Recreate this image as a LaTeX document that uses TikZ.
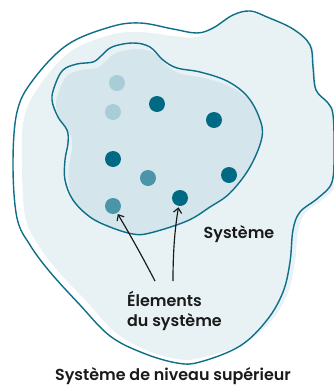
\documentclass[tikz,border=0pt]{standalone}
\usepackage{fontspec}
\setmainfont{Poppins SemiBold}
\usetikzlibrary{arrows.meta,positioning}

\definecolor{linebleu}{HTML}{0F6E88}
\definecolor{fondext}{HTML}{E8F2F5}
\definecolor{fondint}{HTML}{D4E6EB}
\definecolor{pointfonce}{HTML}{006A84}
\definecolor{pointmoyen}{HTML}{4A95A8}
\definecolor{pointclair}{HTML}{A9CDD6}
\definecolor{texte}{HTML}{1A1A1A}

% contours
\def\contourext{plot[smooth cycle,tension=0.6] coordinates {(13,165) (17,112) (33,80) (67,45) (110,27) (140,23) (173,29) (197,33) (213,28) (233,15) (250,11) (267,17) (293,29) (310,45) (313,67) (316,90) (328,103) (333,115) (334,148) (332,182) (318,198) (300,212) (293,230) (290,262) (283,292) (267,320) (240,346) (200,362) (177,363) (143,353) (110,336) (80,305) (50,272) (30,245) (17,218)}}
\def\fondcontourext{plot[smooth cycle,tension=0.6] coordinates {(22,165) (24,118) (40,85) (70,52) (110,35) (140,32) (173,36) (197,37) (215,27) (230,16) (248,12) (267,18) (295,31) (312,46) (315,70) (318,92) (330,104) (336,115) (337,148) (336,184) (322,200) (305,213) (298,232) (295,262) (288,292) (272,320) (243,344) (200,358) (177,359) (146,350) (115,332) (87,302) (57,270) (37,243) (25,216)}}
\def\contourint{plot[smooth cycle,tension=0.6] coordinates {(52,100) (55,85) (63,70) (77,64) (93,62) (101,56) (112,47) (133,43) (150,47) (163,60) (177,68) (200,72) (227,81) (247,96) (259,117) (262,137) (250,167) (230,193) (210,207) (187,221) (150,233) (133,234) (110,227) (90,217) (73,200) (65,180) (65,160) (68,143) (67,130) (58,117)}}

\begin{document}
\begin{tikzpicture}[x=0.03cm,y=-0.03cm,
  bord/.style={draw=linebleu,line width=1.2pt},
  dot/.style={circle,inner sep=0pt,minimum size=0.48cm},
  pointer/.style={-{Straight Barb[length=4pt,width=7pt]},line width=1pt,draw=texte,shorten >=1pt},
  etiquette/.style={text=texte,font=\fontsize{13.6}{17}\selectfont}]
\useasboundingbox (0,0) rectangle (334,386);

% systeme de niveau superieur
\fill[fondext] \fondcontourext;
\draw[bord] \contourext;

% systeme
\begin{scope}
  \clip \contourint;
  \fill[fondint,shift={(4,6)}] \contourint;
\end{scope}
\draw[bord] \contourint;

% elements
\foreach \pos/\col/\name in {{(117,83)}/pointclair/p1, {(113,112)}/pointclair/p2,
  {(157,104)}/pointfonce/p3, {(214,120)}/pointfonce/p4, {(113,159)}/pointfonce/p5,
  {(148,178)}/pointmoyen/p6, {(229,175)}/pointfonce/p7, {(180,198)}/pointfonce/p8,
  {(113,206)}/pointmoyen/p9}
  \node[dot,fill=\col] (\name) at \pos {};

% textes
\node[etiquette] (systeme) at (239,234) {Système};
\node[etiquette,align=left,anchor=west] (elements) at (123,311) {Élements\\du système};
\node[etiquette] (superieur) at (173,376) {Système de niveau supérieur};

% fleches
\coordinate (depart1) at (155,281);
\coordinate (depart2) at (173,281);
\draw[pointer] (depart1) .. controls (143,258) and (132,238) .. (p9);
\draw[pointer] (depart2) .. controls (173,250) and (175,228) .. (p8);
\end{tikzpicture}
\end{document}
